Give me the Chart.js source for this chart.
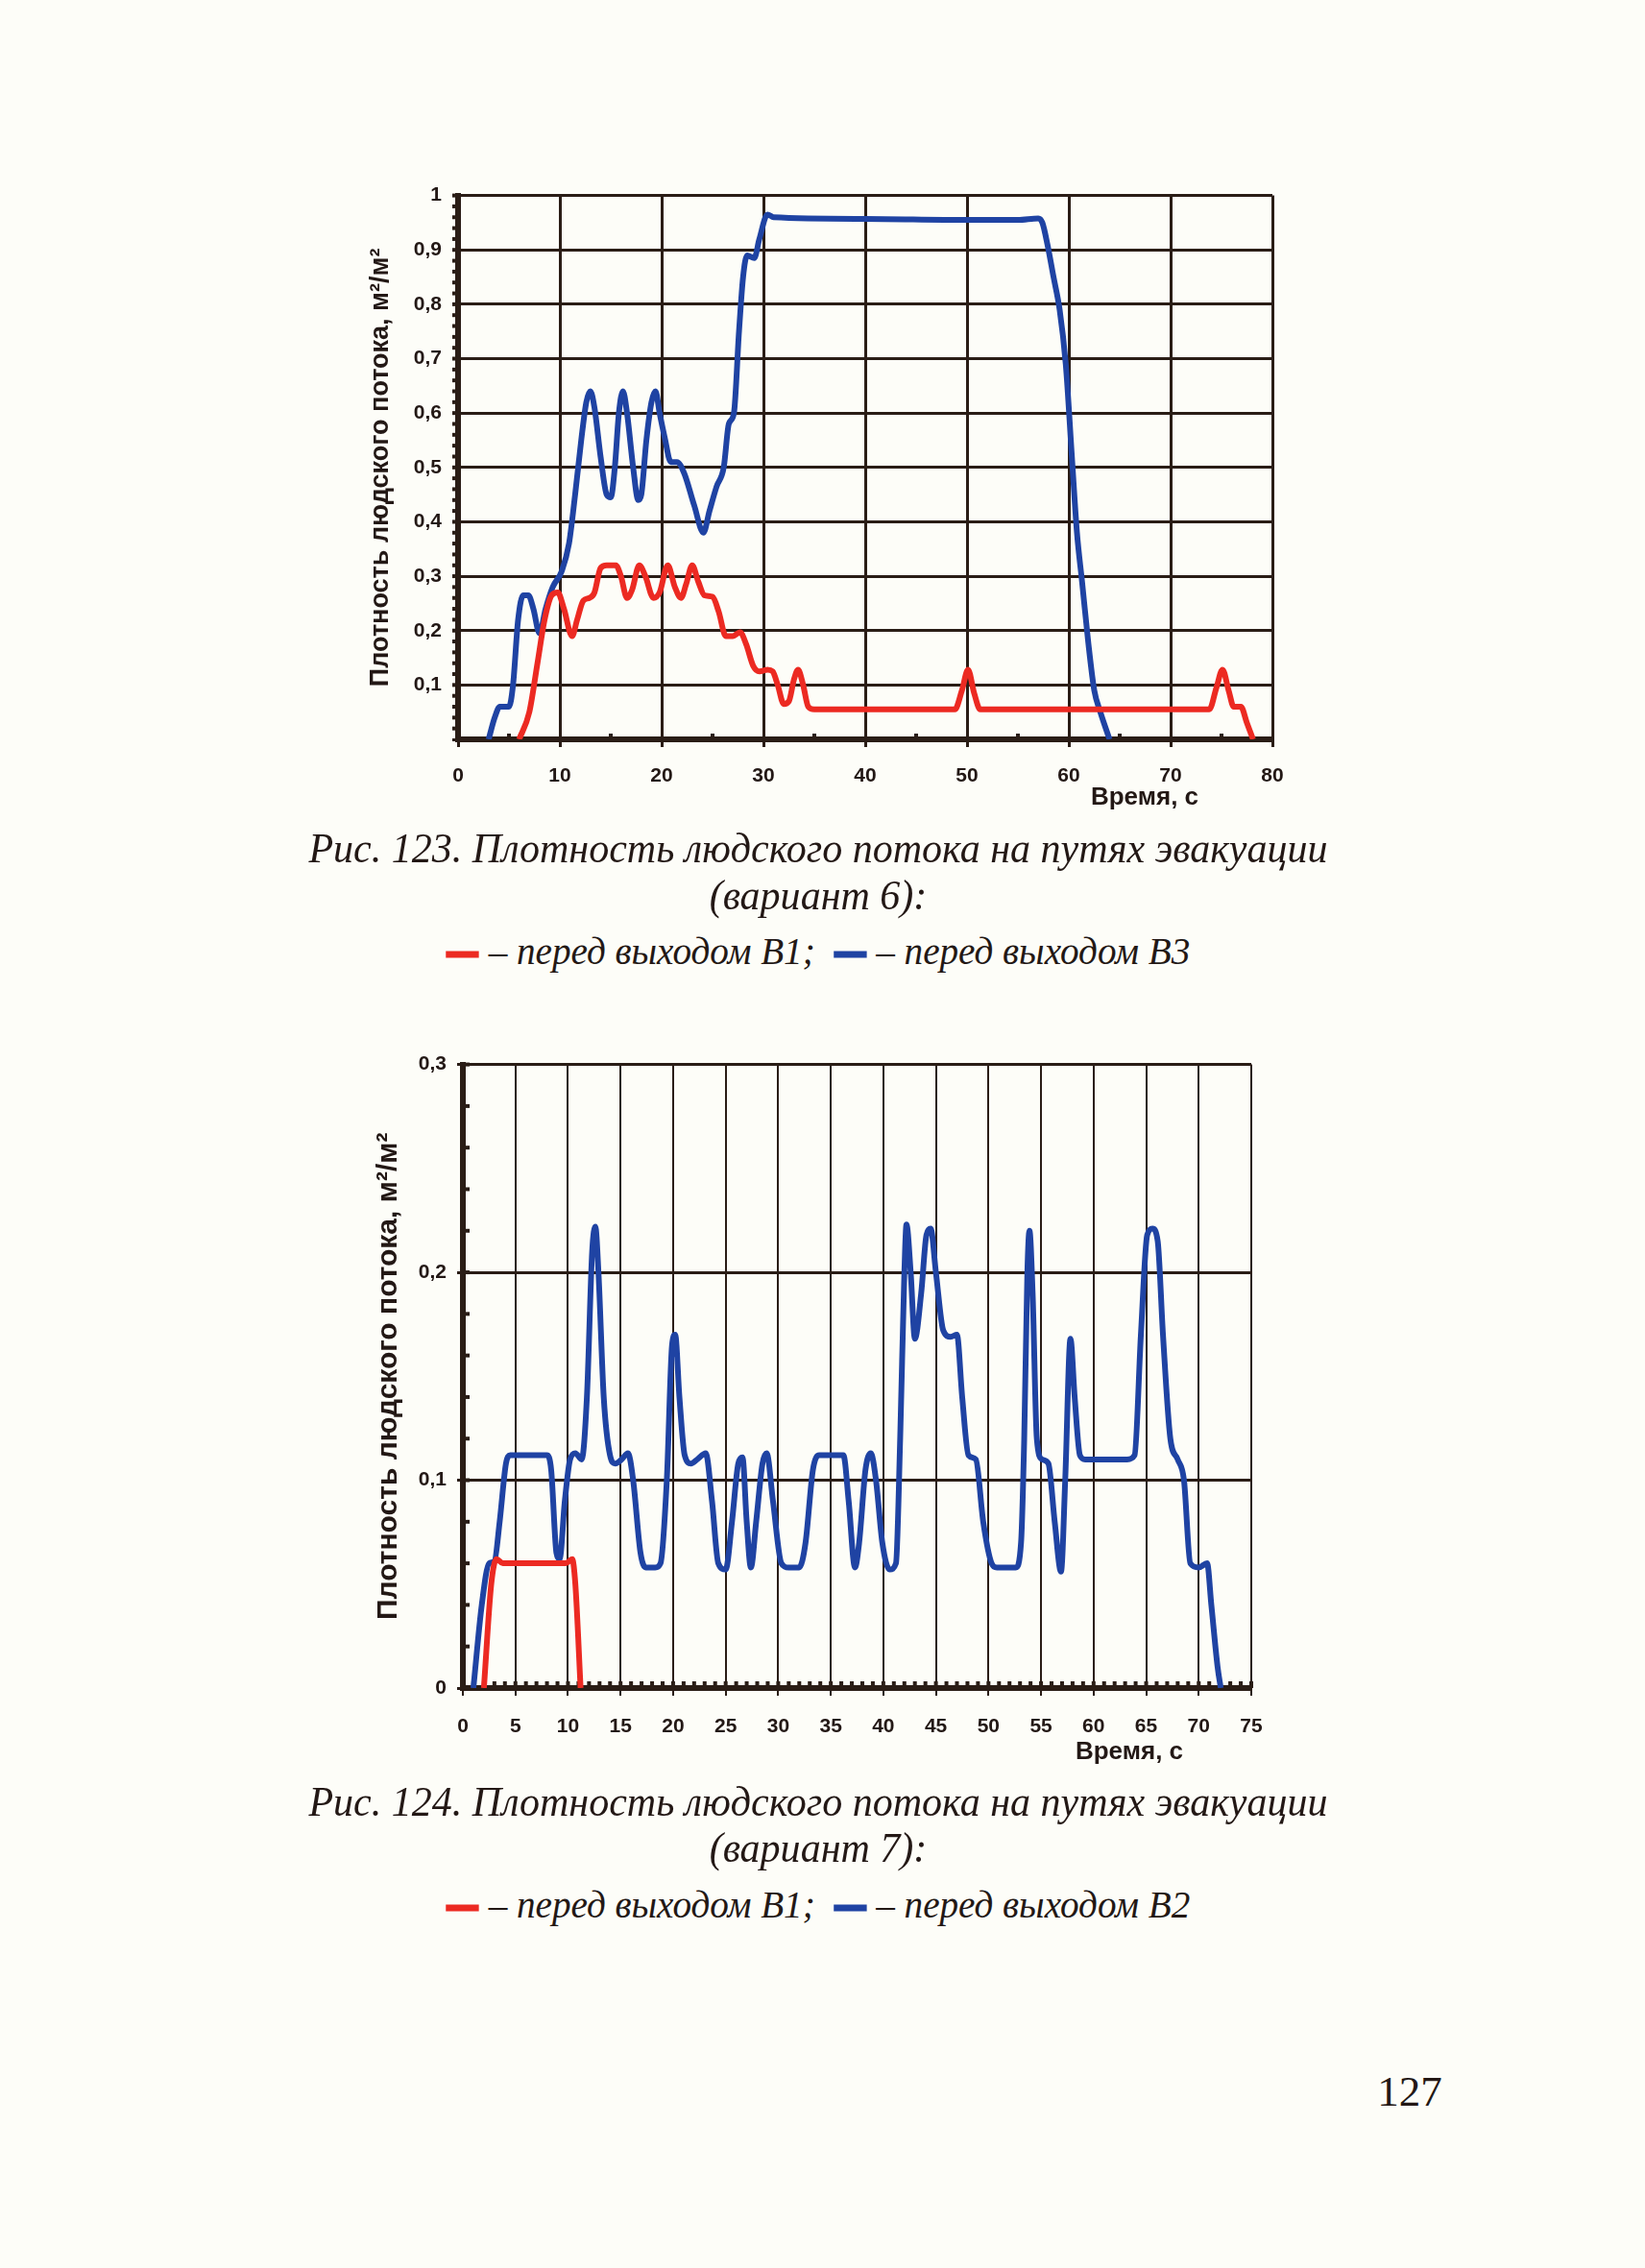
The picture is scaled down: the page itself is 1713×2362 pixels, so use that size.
<!DOCTYPE html>
<html lang="ru">
<head>
<meta charset="utf-8">
<title>Плотность людского потока на путях эвакуации</title>
<script src="https://cdn.jsdelivr.net/npm/chart.js@4.4.1/dist/chart.umd.min.js"></script>
<style>
  html, body { margin: 0; padding: 0; }
  body {
    width: 1713px; height: 2362px; position: relative; overflow: hidden;
    background: #fdfdf8; color: #231815;
    font-family: "Liberation Serif", "DejaVu Serif", serif;
  }
  .plot { position: absolute; }
  .axis-name {
    position: absolute; transform: translate(-50%, -50%); white-space: nowrap;
    font-family: "Liberation Sans", Arial, sans-serif; font-weight: bold; font-size: 26px;
  }
  .caption {
    position: absolute; left: 152px; width: 1400px; text-align: center;
    font-style: italic; font-size: 44px; line-height: 1; white-space: nowrap;
    transform: translateY(-50%) scaleX(0.955);
  }
  .legend { font-size: 41px; }
  .swatch { display: inline-block; width: 36px; height: 7px; vertical-align: middle; margin-right: 10px; }
  .page-num {
    position: absolute; left: 1468px; top: 2178px; transform: translate(-50%, -50%);
    font-size: 45px;
  }
</style>
</head>
<body>

<canvas id="fig123" class="plot" width="980" height="680" style="left:380px; top:180px;"></canvas>
<div class="axis-name" style="left:1192px; top:829px;">Время, с</div>
<div class="caption" style="top:884px;">Рис. 123. Плотность людского потока на путях эвакуации</div>
<div class="caption" style="top:933px;">(вариант 6):</div>
<div class="caption legend" style="top:990px;"><span class="swatch" style="background:#ec2a22"></span>– перед выходом В1; &nbsp;<span class="swatch" style="background:#1f43a3"></span>– перед выходом В3</div>

<canvas id="fig124" class="plot" width="953" height="780" style="left:387px; top:1085px;"></canvas>
<div class="axis-name" style="left:1176px; top:1823px;">Время, с</div>
<div class="caption" style="top:1877px;">Рис. 124. Плотность людского потока на путях эвакуации</div>
<div class="caption" style="top:1925px;">(вариант 7):</div>
<div class="caption legend" style="top:1983px;"><span class="swatch" style="background:#ec2a22"></span>– перед выходом В1; &nbsp;<span class="swatch" style="background:#1f43a3"></span>– перед выходом В2</div>

<div class="page-num">127</div>

<script>
// Рис. 123 (вариант 6)
const fig123Time_B1 = [6.0, 7.0, 7.8, 8.5, 9.2, 9.8, 10.4, 11.2, 11.7, 12.3, 12.9, 13.4, 14.0, 14.6, 15.5, 16.0, 16.6,
  17.1, 17.8, 18.4, 19.2, 19.8, 20.6, 21.3, 21.9, 22.4, 23.0, 23.6, 24.2, 25.0, 25.6, 26.3, 27.0, 27.7, 28.3,
  29.0, 29.6, 30.4, 30.9, 31.4, 32.0, 32.5, 33.0, 33.4, 33.9, 34.4, 35.0, 48.8, 49.5, 50.1, 50.7, 51.3,
  73.8, 74.5, 75.1, 75.7, 76.2, 76.9, 77.5, 78.1];
const fig123Dens_B1 = [0, 0.05, 0.14, 0.22, 0.265, 0.27, 0.24, 0.19, 0.22, 0.255, 0.26, 0.27, 0.315, 0.32, 0.32, 0.3, 0.26,
  0.275, 0.32, 0.3, 0.26, 0.27, 0.32, 0.28, 0.26, 0.285, 0.32, 0.29, 0.265, 0.262, 0.235, 0.19, 0.19, 0.197, 0.175,
  0.135, 0.125, 0.128, 0.125, 0.1, 0.065, 0.07, 0.11, 0.128, 0.1, 0.06, 0.055, 0.055, 0.09, 0.128, 0.085, 0.055,
  0.055, 0.095, 0.128, 0.09, 0.06, 0.06, 0.03, 0];

const fig123Time_B3 = [3.0, 3.6, 4.1, 5.0, 5.4, 5.9, 6.4, 6.9, 7.4, 8.0, 8.6, 9.3, 10.2, 10.9, 11.5, 12.1, 12.6, 13.0,
  13.4, 14.0, 14.6, 15.0, 15.4, 15.8, 16.2, 16.6, 17.2, 17.7, 18.0, 18.5, 19.0, 19.4, 19.8, 20.3, 20.9, 21.5,
  22.2, 23.2, 24.1, 24.7, 25.4, 26.1, 26.6, 27.1, 27.6, 28.0, 28.4, 29.1, 29.6, 30.4, 31.0, 40.0, 50.0, 55.0,
  57.0, 57.4, 57.9, 58.5, 59.1, 59.7, 60.3, 60.8, 61.3, 61.9, 62.5, 63.1, 64.0];
const fig123Dens_B3 = [0, 0.04, 0.06, 0.06, 0.1, 0.22, 0.265, 0.265, 0.24, 0.195, 0.24, 0.28, 0.31, 0.36, 0.45, 0.55, 0.62, 0.64,
  0.61, 0.52, 0.45, 0.445, 0.5, 0.6, 0.64, 0.6, 0.5, 0.44, 0.45, 0.55, 0.62, 0.64, 0.6, 0.555, 0.51, 0.51,
  0.49, 0.43, 0.38, 0.42, 0.465, 0.5, 0.58, 0.6, 0.75, 0.85, 0.89, 0.885, 0.92, 0.965, 0.96, 0.957, 0.955, 0.955,
  0.958, 0.95, 0.91, 0.85, 0.79, 0.69, 0.52, 0.38, 0.29, 0.18, 0.09, 0.05, 0];

const fig123XLabels = ['0', '10', '20', '30', '40', '50', '60', '70', '80'];
const fig123YLabels = ['', '0,1', '0,2', '0,3', '0,4', '0,5', '0,6', '0,7', '0,8', '0,9', '1'];

// Рис. 124 (вариант 7)
const fig124Time_B1 = [2.0, 2.7, 3.2, 3.8, 9.8, 10.4, 10.7, 11.2];
const fig124Dens_B1 = [0, 0.05, 0.062, 0.06, 0.06, 0.062, 0.05, 0];

const fig124Time_B2 = [1.0, 1.8, 2.5, 3.0, 3.5, 4.1, 4.5, 8.0, 8.4, 8.9, 9.2, 9.7, 10.2, 10.7, 11.3, 11.8, 12.3, 12.6,
  12.9, 13.4, 14.0, 14.5, 15.1, 15.7, 16.2, 16.9, 17.4, 18.3, 18.8, 19.4, 19.9, 20.2, 20.6, 21.1, 21.7, 22.3,
  23.1, 23.7, 24.3, 25.0, 25.6, 26.2, 26.6, 27.0, 27.4, 27.9, 28.5, 28.9, 29.5, 30.3, 31.0, 32.0, 32.6, 33.3,
  33.9, 36.2, 36.7, 37.3, 37.7, 38.3, 38.8, 39.3, 39.9, 40.6, 41.2, 41.6, 42.0, 42.2, 42.6, 43.0, 43.6, 44.1,
  44.5, 45.0, 45.7, 46.4, 47.0, 47.5, 48.1, 48.8, 49.5, 50.3, 50.8, 52.6, 53.1, 53.4, 53.7, 53.9, 54.2, 54.6,
  55.1, 55.7, 56.3, 56.9, 57.3, 57.8, 58.2, 58.7, 59.2, 63.2, 63.9, 64.5, 65.1, 65.6, 66.1, 66.6, 67.3, 68.0,
  68.6, 69.2, 70.0, 70.8, 71.2, 71.8, 72.1];
const fig124Dens_B2 = [0, 0.04, 0.06, 0.061, 0.08, 0.108, 0.112, 0.112, 0.105, 0.065, 0.062, 0.09, 0.11, 0.113, 0.11, 0.14, 0.21, 0.222,
  0.2, 0.14, 0.112, 0.108, 0.11, 0.113, 0.1, 0.065, 0.058, 0.058, 0.06, 0.1, 0.165, 0.17, 0.14, 0.112, 0.108, 0.11,
  0.113, 0.09, 0.06, 0.057, 0.08, 0.108, 0.111, 0.08, 0.058, 0.08, 0.108, 0.113, 0.09, 0.06, 0.058, 0.058, 0.07, 0.105,
  0.112, 0.112, 0.09, 0.058, 0.07, 0.105, 0.113, 0.1, 0.07, 0.057, 0.06, 0.12, 0.2, 0.223, 0.2, 0.168, 0.19, 0.218,
  0.221, 0.2, 0.172, 0.169, 0.17, 0.14, 0.112, 0.11, 0.08, 0.06, 0.058, 0.058, 0.07, 0.12, 0.2, 0.22, 0.19, 0.12,
  0.11, 0.108, 0.08, 0.056, 0.1, 0.168, 0.14, 0.112, 0.11, 0.11, 0.112, 0.17, 0.218, 0.221, 0.215, 0.17, 0.12, 0.11,
  0.1, 0.06, 0.058, 0.06, 0.04, 0.01, 0];

const fig124XLabels = ['0', '5', '10', '15', '20', '25', '30', '35', '40', '45', '50', '55', '60', '65', '70', '75'];
const fig124YLabels = ['0', '0,1', '0,2', '0,3'];

const RED = '#ec2a22';
const BLUE = '#1f43a3';
const INK = '#2a1d16';

function pairs(xs, ys) {
  return xs.map((x, i) => ({ x: x, y: ys[i] }));
}

// small extra tick marks along the axes (scanned chart has them)
const minorTicks = {
  id: 'minorTicks',
  beforeDatasetsDraw(chart, args, opts) {
    const { ctx, chartArea } = chart;
    const xs = chart.scales.x, ys = chart.scales.y;
    ctx.save();
    ctx.fillStyle = INK;
    if (opts.xStep) {
      for (let v = opts.xFrom; v <= xs.max + 1e-9; v += opts.xStep) {
        const px = xs.getPixelForValue(v);
        ctx.fillRect(px - 2, chartArea.bottom - opts.xLen, 4, opts.xLen);
      }
    }
    if (opts.yStep) {
      for (let v = opts.yFrom; v <= ys.max + 1e-9; v += opts.yStep) {
        const py = ys.getPixelForValue(v);
        if (opts.yIn) ctx.fillRect(chartArea.left, py - 2, opts.yLen, 4);
        else ctx.fillRect(chartArea.left - opts.yLen, py - 2, opts.yLen, 4);
      }
    }
    ctx.restore();
  }
};

function makeChart(id, cfg) {
  const tickFont = { family: '"Liberation Sans", Arial, sans-serif', weight: 'bold', size: cfg.tickSize };
  return new Chart(document.getElementById(id), {
    type: 'line',
    data: {
      datasets: [
        { data: pairs(cfg.redX, cfg.redY), borderColor: RED, borderWidth: 6, pointRadius: 0,
          cubicInterpolationMode: 'monotone', fill: false },
        { data: pairs(cfg.blueX, cfg.blueY), borderColor: BLUE, borderWidth: 6, pointRadius: 0,
          cubicInterpolationMode: 'monotone', fill: false }
      ]
    },
    options: {
      responsive: false,
      animation: false,
      layout: { padding: cfg.pad },
      plugins: {
        legend: { display: false },
        tooltip: { enabled: false },
        minorTicks: cfg.minor
      },
      scales: {
        x: {
          type: 'linear', min: 0, max: cfg.xMax,
          afterFit: (s) => { s.height = cfg.xAxisH; },
          afterBuildTicks: (s) => { s.ticks = cfg.xLabels.map((l, i) => ({ value: i * cfg.xStep })); },
          ticks: { color: '#231815', font: tickFont, padding: cfg.xTickPad, maxRotation: 0,
                   callback: (v, i) => cfg.xLabels[i] },
          grid: { color: INK, lineWidth: cfg.vGrid, tickLength: 8 },
          border: { color: INK, width: 6 }
        },
        y: {
          min: 0, max: cfg.yMax,
          afterFit: (s) => { s.width = cfg.yAxisW; },
          afterBuildTicks: (s) => { s.ticks = cfg.yLabels.map((l, i) => ({ value: i * cfg.yStep })); },
          ticks: { color: '#231815', font: tickFont, padding: 11, callback: (v, i) => cfg.yLabels[i] },
          grid: { color: INK, lineWidth: cfg.hGrid, tickLength: 6 },
          border: { color: INK, width: 6 },
          title: {
            display: true, text: 'Плотность людского потока, м²/м²', color: '#231815', padding: 0,
            font: { family: '"Liberation Sans", Arial, sans-serif', weight: 'bold', size: cfg.titleSize }
          }
        }
      }
    },
    plugins: [minorTicks]
  });
}

makeChart('fig123', {
  redX: fig123Time_B1, redY: fig123Dens_B1, blueX: fig123Time_B3, blueY: fig123Dens_B3,
  xLabels: fig123XLabels, yLabels: fig123YLabels, xStep: 10, yStep: 0.1, xMax: 80, yMax: 1,
  pad: { top: 17, right: 35, left: 0, bottom: 0 }, xAxisH: 90, yAxisW: 97,
  tickSize: 21, titleSize: 27, xTickPad: 18, vGrid: 3, hGrid: 3,
  minor: { xStep: 10, xFrom: 5, xLen: 6, yStep: 0.02, yFrom: 0.02, yLen: 6, yIn: false }
});

makeChart('fig124', {
  redX: fig124Time_B1, redY: fig124Dens_B1, blueX: fig124Time_B2, blueY: fig124Dens_B2,
  xLabels: fig124XLabels, yLabels: fig124YLabels, xStep: 5, yStep: 0.1, xMax: 75, yMax: 0.3,
  pad: { top: 18, right: 37, left: 0, bottom: 0 }, xAxisH: 107, yAxisW: 95,
  tickSize: 21, titleSize: 30, xTickPad: 20, vGrid: 2, hGrid: 3,
  minor: { xStep: 1, xFrom: 1, xLen: 7, yStep: 0.02, yFrom: 0.02, yLen: 7, yIn: true }
});
</script>
</body>
</html>
